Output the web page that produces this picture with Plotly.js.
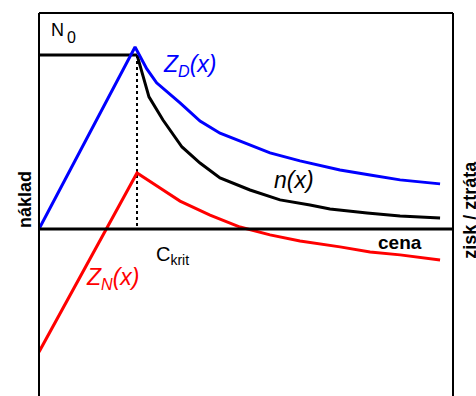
<!DOCTYPE html>
<html>
<head>
<meta charset="utf-8">
<script src="https://cdn.plot.ly/plotly-3.0.1.min.js"></script>
<style>
  html, body { margin: 0; padding: 0; background: #fff; }
  #chart { width: 476px; height: 396px; }
</style>
</head>
<body>
<div id="chart"></div>
<script>
// Price axis in units of the critical price (C_krit = 1), costs relative to N0 = 1.
const N0 = 1.0;
const cKrit = 1.0;

// Fixed cost level N0 up to the critical price
const n0X = [0, 1.0];
const n0Y = [1.0, 1.0];

// Z_D(x) - blue curve
const zdX = [0, 0.98, 1.10, 1.20, 1.439, 1.643, 1.847, 2.051, 2.357, 2.663, 3.071, 3.378, 3.684, 4.092];
const zdY = [0, 1.046, 0.92, 0.84, 0.724, 0.62, 0.55, 0.505, 0.437, 0.391, 0.339, 0.310, 0.282, 0.259];

// n(x) - black curve
const nX = [1.0, 1.122, 1.265, 1.459, 1.643, 1.847, 2.153, 2.459, 2.765, 2.969, 3.347, 3.684, 4.092];
const nY = [1.0, 0.759, 0.626, 0.471, 0.379, 0.293, 0.224, 0.167, 0.138, 0.115, 0.092, 0.075, 0.063];

// Z_N(x) - red curve
const znX = [0, 1.0, 1.235, 1.439, 1.745, 2.051, 2.357, 2.663, 3.071, 3.378, 3.684, 4.092];
const znY = [-0.707, 0.322, 0.235, 0.160, 0.080, 0.011, -0.034, -0.069, -0.103, -0.132, -0.149, -0.178];

const xRange = [0, 4.224];
const yRange = [-0.960, 1.241];

const FONT = 'Arial, "Liberation Sans", sans-serif';

const traces = [
  { x: n0X, y: n0Y, mode: 'lines', line: { color: '#000', width: 3 }, hoverinfo: 'skip' },
  { x: [cKrit, cKrit], y: [N0, 0], mode: 'lines', line: { color: '#000', width: 2, dash: 'dot' }, hoverinfo: 'skip' },
  { x: nX, y: nY, mode: 'lines', line: { color: '#000', width: 3 }, hoverinfo: 'skip' },
  { x: zdX, y: zdY, mode: 'lines', line: { color: '#0000ff', width: 3 }, hoverinfo: 'skip' },
  { x: znX, y: znY, mode: 'lines', line: { color: '#ff0000', width: 3 }, hoverinfo: 'skip' }
];

const frameLine = { color: '#000', width: 2 };
const shapes = [
  // frame: left, top, right
  { type: 'line', xref: 'paper', yref: 'paper', x0: 0, x1: 0, y0: 0, y1: 1, line: frameLine },
  { type: 'line', xref: 'paper', yref: 'paper', x0: 0, x1: 1, y0: 1, y1: 1, line: frameLine },
  { type: 'line', xref: 'paper', yref: 'paper', x0: 1, x1: 1, y0: 0, y1: 1, line: frameLine },
  // price axis
  { type: 'line', xref: 'paper', yref: 'y', x0: 0, x1: 1, y0: 0, y1: 0, line: { color: '#000', width: 3 } }
];

const annotations = [
  { x: 0.105, y: 1.144, xref: 'x', yref: 'y', xanchor: 'left', yanchor: 'middle', showarrow: false,
    text: 'N', font: { family: FONT, size: 18, color: '#000' } },
  { x: 0.265, y: 1.10, xref: 'x', yref: 'y', xanchor: 'left', yanchor: 'middle', showarrow: false,
    text: '0', font: { family: FONT, size: 16, color: '#000' } },
  { x: 1.541, y: 0.937, xref: 'x', yref: 'y', showarrow: false,
    text: '<i>Z<sub>D</sub>(x)</i>', font: { family: FONT, size: 23, color: '#0000ff' } },
  { x: 2.602, y: 0.282, xref: 'x', yref: 'y', showarrow: false,
    text: '<i>n(x)</i>', font: { family: FONT, size: 23, color: '#000' } },
  { x: 0.755, y: -0.282, xref: 'x', yref: 'y', showarrow: false,
    text: '<i>Z<sub>N</sub>(x)</i>', font: { family: FONT, size: 23, color: '#ff0000' } },
  { x: 1.357, y: -0.150, xref: 'x', yref: 'y', showarrow: false,
    text: 'C<sub>krit</sub>', font: { family: FONT, size: 20, color: '#000' } },
  { x: 3.684, y: -0.080, xref: 'x', yref: 'y', showarrow: false,
    text: '<b>cena</b>', font: { family: FONT, size: 19, color: '#000' } },
  { x: -0.034, y: 0.514, xref: 'paper', yref: 'paper', xanchor: 'center', yanchor: 'middle',
    showarrow: false, textangle: -90,
    text: '<b>náklad</b>', font: { family: FONT, size: 18, color: '#000' } },
  { x: 1.041, y: 0.486, xref: 'paper', yref: 'paper', xanchor: 'center', yanchor: 'middle',
    showarrow: false, textangle: -90,
    text: '<b>zisk / ztráta</b>', font: { family: FONT, size: 18, color: '#000' } }
];

const layout = {
  width: 476,
  height: 396,
  margin: { l: 39, r: 23, t: 13, b: 0, pad: 0 },
  paper_bgcolor: '#fff',
  plot_bgcolor: '#fff',
  showlegend: false,
  xaxis: { range: xRange, visible: false, fixedrange: true },
  yaxis: { range: yRange, visible: false, fixedrange: true },
  shapes: shapes,
  annotations: annotations
};

Plotly.newPlot('chart', traces, layout, { staticPlot: true, displayModeBar: false });
</script>
</body>
</html>
